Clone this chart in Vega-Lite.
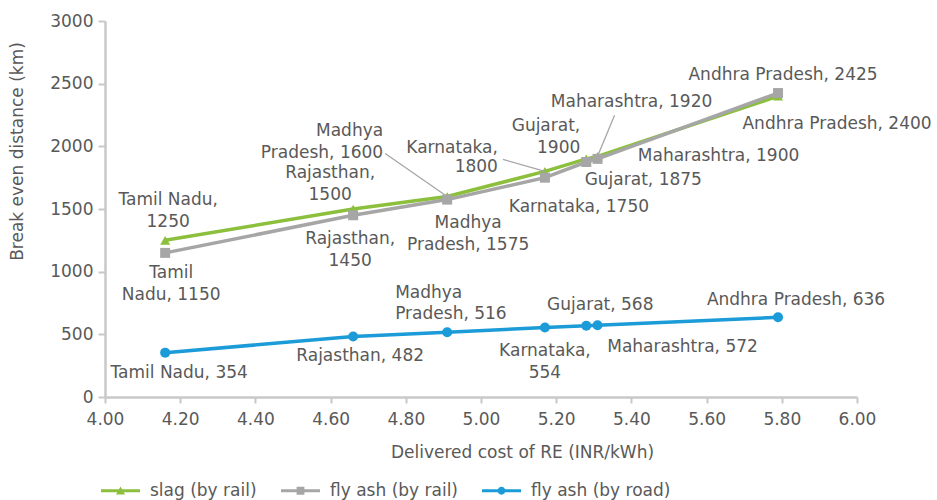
{
  "$schema": "https://vega.github.io/schema/vega-lite/v6.json",
  "width": 752,
  "height": 376,
  "autosize": "none",
  "padding": {"left": 105, "top": 21, "right": 80, "bottom": 103},
  "data": {
    "values": [
      {"series": "slag (by rail)", "state": "Tamil Nadu", "cost": 4.16, "distance": 1250, "label": "Tamil Nadu,\n1250"},
      {"series": "slag (by rail)", "state": "Rajasthan", "cost": 4.66, "distance": 1500, "label": "Rajasthan,\n1500"},
      {"series": "slag (by rail)", "state": "Madhya Pradesh", "cost": 4.91, "distance": 1600, "label": "Madhya\nPradesh, 1600"},
      {"series": "slag (by rail)", "state": "Karnataka", "cost": 5.17, "distance": 1800, "label": "Karnataka,\n1800"},
      {"series": "slag (by rail)", "state": "Gujarat", "cost": 5.28, "distance": 1900, "label": "Gujarat,\n1900"},
      {"series": "slag (by rail)", "state": "Maharashtra", "cost": 5.31, "distance": 1920, "label": "Maharashtra, 1920"},
      {"series": "slag (by rail)", "state": "Andhra Pradesh", "cost": 5.79, "distance": 2400, "label": "Andhra Pradesh, 2400"},
      {"series": "fly ash (by rail)", "state": "Tamil Nadu", "cost": 4.16, "distance": 1150, "label": "Tamil\nNadu, 1150"},
      {"series": "fly ash (by rail)", "state": "Rajasthan", "cost": 4.66, "distance": 1450, "label": "Rajasthan,\n1450"},
      {"series": "fly ash (by rail)", "state": "Madhya Pradesh", "cost": 4.91, "distance": 1575, "label": "Madhya\nPradesh, 1575"},
      {"series": "fly ash (by rail)", "state": "Karnataka", "cost": 5.17, "distance": 1750, "label": "Karnataka, 1750"},
      {"series": "fly ash (by rail)", "state": "Gujarat", "cost": 5.28, "distance": 1875, "label": "Gujarat, 1875"},
      {"series": "fly ash (by rail)", "state": "Maharashtra", "cost": 5.31, "distance": 1900, "label": "Maharashtra, 1900"},
      {"series": "fly ash (by rail)", "state": "Andhra Pradesh", "cost": 5.79, "distance": 2425, "label": "Andhra Pradesh, 2425"},
      {"series": "fly ash (by road)", "state": "Tamil Nadu", "cost": 4.16, "distance": 354, "label": "Tamil Nadu, 354"},
      {"series": "fly ash (by road)", "state": "Rajasthan", "cost": 4.66, "distance": 482, "label": "Rajasthan, 482"},
      {"series": "fly ash (by road)", "state": "Madhya Pradesh", "cost": 4.91, "distance": 516, "label": "Madhya\nPradesh, 516"},
      {"series": "fly ash (by road)", "state": "Karnataka", "cost": 5.17, "distance": 554, "label": "Karnataka,\n554"},
      {"series": "fly ash (by road)", "state": "Gujarat", "cost": 5.28, "distance": 568, "label": "Gujarat, 568"},
      {"series": "fly ash (by road)", "state": "Maharashtra", "cost": 5.31, "distance": 572, "label": "Maharashtra, 572"},
      {"series": "fly ash (by road)", "state": "Andhra Pradesh", "cost": 5.79, "distance": 636, "label": "Andhra Pradesh, 636"}
    ]
  },
  "encoding": {
    "x": {
      "field": "cost", "type": "quantitative",
      "scale": {"domain": [4, 6], "nice": false, "zero": false},
      "axis": {
        "title": "Delivered cost of RE (INR/kWh)",
        "values": [4, 4.2, 4.4, 4.6, 4.8, 5, 5.2, 5.4, 5.6, 5.8, 6],
        "format": ".2f", "tickSize": 6, "labelPadding": 8, "labelFlush": false, "labelOverlap": false,
        "titleX": 417, "titleY": 55, "titleAlign": "center", "titleBaseline": "middle"
      }
    },
    "y": {
      "field": "distance", "type": "quantitative",
      "scale": {"domain": [0, 3000], "nice": false},
      "axis": {
        "title": "Break even distance (km)",
        "values": [0, 500, 1000, 1500, 2000, 2500, 3000], "format": "d",
        "tickSize": 7, "labelPadding": 5, "labelFlush": false, "labelOverlap": false,
        "titleAngle": -90, "titleX": -88, "titleY": 130, "titleAlign": "center", "titleBaseline": "middle"
      }
    }
  },
  "layer": [
    {
      "transform": [{"filter": "false"}],
      "mark": {"type": "point", "filled": true, "opacity": 1},
      "encoding": {
        "color": {
          "field": "series", "type": "nominal",
          "scale": {"domain": ["slag (by rail)", "fly ash (by rail)", "fly ash (by road)"], "range": ["#8CC03C", "#A6A6A6", "#1B9BD7"]},
          "legend": {
            "title": null, "orient": "none", "direction": "horizontal",
            "legendX": -4, "legendY": 450, "padding": 0,
            "symbolSize": 1521, "symbolStrokeWidth": 0, "labelOffset": 10, "columnPadding": 24,
            "labelFont": "DejaVu Sans", "labelFontSize": 17, "labelColor": "#595959"
          }
        },
        "shape": {
          "field": "series", "type": "nominal",
          "scale": {
            "domain": ["slag (by rail)", "fly ash (by rail)", "fly ash (by road)"],
            "range": [
              "M-1,-0.077H1V0.077H-1Z M-0.23,0.19L0,-0.22L0.23,0.19Z",
              "M-1,-0.077H1V0.077H-1Z M-0.2,-0.2H0.2V0.2H-0.2Z",
              "M-1,-0.077H1V0.077H-1Z M-0.2,0A0.2,0.2 0 1,1 0.2,0A0.2,0.2 0 1,1 -0.2,0Z"
            ]
          },
          "legend": {
            "title": null, "orient": "none", "direction": "horizontal",
            "legendX": -4, "legendY": 450, "padding": 0,
            "symbolSize": 1521, "symbolStrokeWidth": 0, "labelOffset": 10, "columnPadding": 24,
            "labelFont": "DejaVu Sans", "labelFontSize": 17, "labelColor": "#595959"
          }
        }
      }
    },
    {
      "mark": {"type": "line", "strokeWidth": 3.5},
      "encoding": {
        "color": {"field": "series", "type": "nominal", "legend": null}
      }
    },
    {
      "transform": [{"filter": "datum.series === 'slag (by rail)'"}],
      "mark": {"type": "point", "filled": true, "shape": "triangle-up", "size": 100, "opacity": 1},
      "encoding": {"color": {"field": "series", "type": "nominal", "legend": null}}
    },
    {
      "transform": [{"filter": "datum.series === 'fly ash (by rail)'"}],
      "mark": {"type": "point", "filled": true, "shape": "square", "size": 100, "opacity": 1},
      "encoding": {"color": {"field": "series", "type": "nominal", "legend": null}}
    },
    {
      "transform": [{"filter": "datum.series === 'fly ash (by road)'"}],
      "mark": {"type": "point", "filled": true, "shape": "circle", "size": 100, "opacity": 1},
      "encoding": {"color": {"field": "series", "type": "nominal", "legend": null}}
    },
    {
      "transform": [{"filter": "datum.series === 'slag (by rail)' && datum.state === 'Madhya Pradesh'"}],
      "mark": {"type": "rule", "color": "#A6A6A6", "strokeWidth": 1.3, "x2Offset": -62, "y2Offset": -43},
      "encoding": {"x2": {"field": "cost"}, "y2": {"field": "distance"}}
    },
    {
      "transform": [{"filter": "datum.series === 'slag (by rail)' && datum.state === 'Karnataka'"}],
      "mark": {"type": "rule", "color": "#A6A6A6", "strokeWidth": 1.3, "x2Offset": -42, "y2Offset": -12},
      "encoding": {"x2": {"field": "cost"}, "y2": {"field": "distance"}}
    },
    {
      "transform": [{"filter": "datum.series === 'slag (by rail)' && datum.state === 'Maharashtra'"}],
      "mark": {"type": "rule", "color": "#A6A6A6", "strokeWidth": 1.3, "x2Offset": 17, "y2Offset": -41},
      "encoding": {"x2": {"field": "cost"}, "y2": {"field": "distance"}}
    },
    {"transform": [{"filter": "datum.series === 'slag (by rail)' && datum.state === 'Tamil Nadu'"}],
     "mark": {"type": "text", "dx": 3, "dy": -40}, "encoding": {"text": {"field": "label"}}},
    {"transform": [{"filter": "datum.series === 'slag (by rail)' && datum.state === 'Rajasthan'"}],
     "mark": {"type": "text", "dx": -23, "dy": -36}, "encoding": {"text": {"field": "label"}}},
    {"transform": [{"filter": "datum.series === 'slag (by rail)' && datum.state === 'Madhya Pradesh'"}],
     "mark": {"type": "text", "align": "right", "dx": -64, "dy": -65}, "encoding": {"text": {"field": "label"}}},
    {"transform": [{"filter": "datum.series === 'slag (by rail)' && datum.state === 'Karnataka'"}],
     "mark": {"type": "text", "align": "right", "lineHeight": 18.5, "dx": -47, "dy": -23}, "encoding": {"text": {"field": "label"}}},
    {"transform": [{"filter": "datum.series === 'slag (by rail)' && datum.state === 'Gujarat'"}],
     "mark": {"type": "text", "align": "right", "dx": -6, "dy": -33}, "encoding": {"text": {"field": "label"}}},
    {"transform": [{"filter": "datum.series === 'slag (by rail)' && datum.state === 'Maharashtra'"}],
     "mark": {"type": "text", "dx": 34, "dy": -54}, "encoding": {"text": {"field": "label"}}},
    {"transform": [{"filter": "datum.series === 'slag (by rail)' && datum.state === 'Andhra Pradesh'"}],
     "mark": {"type": "text", "dx": 59, "dy": 28}, "encoding": {"text": {"field": "label"}}},
    {"transform": [{"filter": "datum.series === 'fly ash (by rail)' && datum.state === 'Tamil Nadu'"}],
     "mark": {"type": "text", "dx": 6, "dy": 20}, "encoding": {"text": {"field": "label"}}},
    {"transform": [{"filter": "datum.series === 'fly ash (by rail)' && datum.state === 'Rajasthan'"}],
     "mark": {"type": "text", "dx": -3, "dy": 24}, "encoding": {"text": {"field": "label"}}},
    {"transform": [{"filter": "datum.series === 'fly ash (by rail)' && datum.state === 'Madhya Pradesh'"}],
     "mark": {"type": "text", "dx": 21, "dy": 23}, "encoding": {"text": {"field": "label"}}},
    {"transform": [{"filter": "datum.series === 'fly ash (by rail)' && datum.state === 'Karnataka'"}],
     "mark": {"type": "text", "dx": 34, "dy": 29}, "encoding": {"text": {"field": "label"}}},
    {"transform": [{"filter": "datum.series === 'fly ash (by rail)' && datum.state === 'Gujarat'"}],
     "mark": {"type": "text", "dx": 57, "dy": 18}, "encoding": {"text": {"field": "label"}}},
    {"transform": [{"filter": "datum.series === 'fly ash (by rail)' && datum.state === 'Maharashtra'"}],
     "mark": {"type": "text", "dx": 121, "dy": -3}, "encoding": {"text": {"field": "label"}}},
    {"transform": [{"filter": "datum.series === 'fly ash (by rail)' && datum.state === 'Andhra Pradesh'"}],
     "mark": {"type": "text", "dx": 5, "dy": -18}, "encoding": {"text": {"field": "label"}}},
    {"transform": [{"filter": "datum.series === 'fly ash (by road)' && datum.state === 'Tamil Nadu'"}],
     "mark": {"type": "text", "dx": 14, "dy": 20}, "encoding": {"text": {"field": "label"}}},
    {"transform": [{"filter": "datum.series === 'fly ash (by road)' && datum.state === 'Rajasthan'"}],
     "mark": {"type": "text", "dx": 7, "dy": 19}, "encoding": {"text": {"field": "label"}}},
    {"transform": [{"filter": "datum.series === 'fly ash (by road)' && datum.state === 'Madhya Pradesh'"}],
     "mark": {"type": "text", "align": "left", "lineHeight": 21, "dx": -52, "dy": -39}, "encoding": {"text": {"field": "label"}}},
    {"transform": [{"filter": "datum.series === 'fly ash (by road)' && datum.state === 'Karnataka'"}],
     "mark": {"type": "text", "dx": 0, "dy": 23}, "encoding": {"text": {"field": "label"}}},
    {"transform": [{"filter": "datum.series === 'fly ash (by road)' && datum.state === 'Gujarat'"}],
     "mark": {"type": "text", "dx": 14, "dy": -21}, "encoding": {"text": {"field": "label"}}},
    {"transform": [{"filter": "datum.series === 'fly ash (by road)' && datum.state === 'Maharashtra'"}],
     "mark": {"type": "text", "dx": 85, "dy": 22}, "encoding": {"text": {"field": "label"}}},
    {"transform": [{"filter": "datum.series === 'fly ash (by road)' && datum.state === 'Andhra Pradesh'"}],
     "mark": {"type": "text", "dx": 18, "dy": -17}, "encoding": {"text": {"field": "label"}}}
  ],
  "config": {
    "font": "DejaVu Sans",
    "view": {"stroke": null},
    "axis": {
      "labelFont": "DejaVu Sans", "labelFontSize": 17, "labelColor": "#595959",
      "titleFont": "DejaVu Sans", "titleFontSize": 17, "titleColor": "#595959", "titleFontWeight": "normal",
      "domainColor": "#C8C8C8", "domainWidth": 2.5, "tickColor": "#C8C8C8", "tickWidth": 2, "grid": false
    },
    "text": {"font": "DejaVu Sans", "fontSize": 17, "color": "#595959", "align": "center", "baseline": "middle", "lineHeight": 22, "lineBreak": "\n"}
  }
}
